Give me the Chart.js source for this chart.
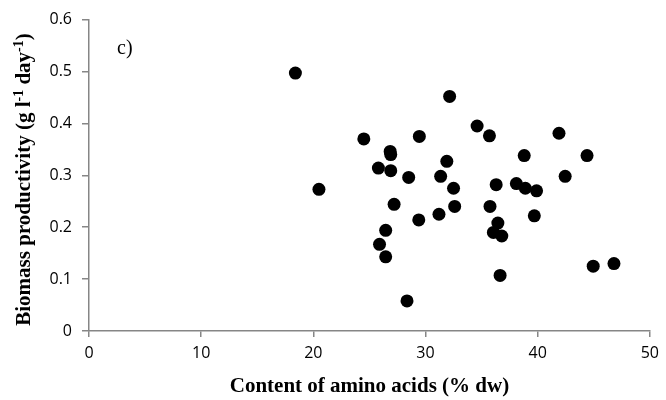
<!DOCTYPE html>
<html>
<head>
<meta charset="utf-8">
<script src="https://cdn.jsdelivr.net/npm/chart.js@4/dist/chart.umd.min.js"></script>
<style>
  html, body { margin: 0; padding: 0; background: #fff; }
</style>
</head>
<body>
<canvas id="scatterChart" width="666" height="400"></canvas>
<script>
// amino acid content (% dw) and biomass productivity (g l-1 day-1)
const aminoAcids = [
  18.4, 20.5, 32.15, 24.5, 29.45, 34.6, 35.7, 41.9, 26.85, 26.9,
  25.8, 26.9, 28.5, 31.9, 31.35, 32.5, 36.3, 38.1, 38.9, 39.9,
  38.8, 44.4, 42.45, 27.2, 32.6, 35.75, 29.4, 31.2, 39.7, 36.45,
  36.05, 36.8, 26.45, 25.9, 26.45, 36.65, 44.95, 46.8, 28.35
];
const productivity = [
  0.497, 0.273, 0.452, 0.370, 0.375, 0.395, 0.376, 0.381, 0.346, 0.340,
  0.314, 0.309, 0.296, 0.327, 0.298, 0.275, 0.282, 0.284, 0.275, 0.270,
  0.338, 0.338, 0.298, 0.244, 0.240, 0.240, 0.214, 0.225, 0.222, 0.208,
  0.190, 0.183, 0.194, 0.167, 0.143, 0.107, 0.125, 0.130, 0.058
];
const xTicks = [0, 10, 20, 30, 40, 50];
const yTicks = [0, 0.1, 0.2, 0.3, 0.4, 0.5, 0.6];
const yTickLabels = ["0", "0.1", "0.2", "0.3", "0.4", "0.5", "0.6"];

const panelLabel = "c)";
const xTitle = "Content of amino acids (% dw)";
// [text, superscript?]
const yTitleParts = [
  ["Biomass productivity (g l", false],
  ["-1", true],
  [" day", false],
  ["-1", true],
  [")", false],
];

const axisGray = "#868686";
const titleFont = "bold 21px 'Liberation Serif', 'Times New Roman', serif";
const supFont = "bold 14px 'Liberation Serif', 'Times New Roman', serif";

const points = aminoAcids.map((x, i) => ({ x: x, y: productivity[i] }));

// y title with superscripts and the panel letter
const extraText = {
  id: "extraText",
  afterDraw(chart) {
    const c = chart.ctx;
    const area = chart.chartArea;

    c.save();
    c.fillStyle = "#000";
    c.textBaseline = "alphabetic";
    c.textAlign = "left";
    let total = 0;
    yTitleParts.forEach(([t, sup]) => {
      c.font = sup ? supFont : titleFont;
      total += c.measureText(t).width;
    });
    c.translate(29.5, 179.5);
    c.rotate(-Math.PI / 2);
    let pos = -total / 2;
    yTitleParts.forEach(([t, sup]) => {
      c.font = sup ? supFont : titleFont;
      c.fillText(t, pos, sup ? -7 : 0);
      pos += c.measureText(t).width;
    });
    c.restore();

    c.save();
    c.fillStyle = "#000";
    c.font = "20px 'Liberation Serif', 'Times New Roman', serif";
    c.textBaseline = "alphabetic";
    c.fillText(panelLabel, area.left + 28, area.top + 34.5);
    c.restore();
  },
};

const ctx = document.getElementById("scatterChart");

new Chart(ctx, {
  type: "scatter",
  data: {
    datasets: [
      {
        data: points,
        backgroundColor: "#000",
        borderWidth: 0,
        pointRadius: 6.5,
        pointHoverRadius: 6.5,
      },
    ],
  },
  options: {
    responsive: false,
    animation: false,
    layout: {
      padding: { top: 19, right: 14, bottom: 0, left: 0 },
    },
    plugins: {
      legend: { display: false },
      tooltip: { enabled: false },
    },
    scales: {
      x: {
        type: "linear",
        min: 0,
        max: 50,
        afterBuildTicks: (scale) => {
          scale.ticks = xTicks.map((v) => ({ value: v }));
        },
        afterFit: (scale) => {
          scale.height = 69;
        },
        ticks: {
          color: "#000",
          padding: 7,
          font: { family: "'Open Sans', sans-serif", size: 16 },
          maxRotation: 0,
        },
        grid: {
          drawOnChartArea: false,
          drawTicks: true,
          tickLength: 6,
          color: axisGray,
          lineWidth: 1.5,
        },
        border: { display: true, color: axisGray, width: 1.5 },
        title: {
          display: true,
          text: xTitle,
          color: "#000",
          font: { family: "'Liberation Serif', 'Times New Roman', serif", size: 21, weight: "bold" },
          padding: { top: 0, bottom: 1 },
        },
      },
      y: {
        type: "linear",
        min: 0,
        max: 0.6,
        afterBuildTicks: (scale) => {
          scale.ticks = yTicks.map((v) => ({ value: v }));
        },
        afterFit: (scale) => {
          scale.width = 89;
        },
        ticks: {
          color: "#000",
          padding: 10,
          font: { family: "'Open Sans', sans-serif", size: 16 },
          callback: (value) => yTickLabels[yTicks.findIndex((v) => Math.abs(v - value) < 1e-9)],
        },
        grid: {
          drawOnChartArea: false,
          drawTicks: true,
          tickLength: 7,
          color: axisGray,
          lineWidth: 1.5,
        },
        border: { display: true, color: axisGray, width: 1.5 },
      },
    },
  },
  plugins: [extraText],
});
</script>
</body>
</html>
